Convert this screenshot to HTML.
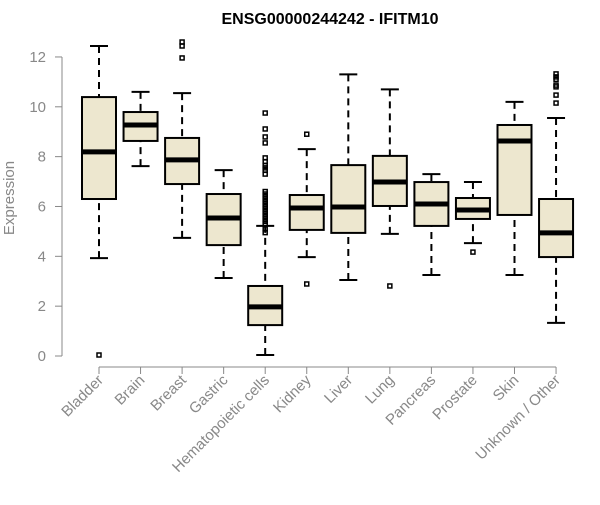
<!DOCTYPE html>
<html><head><meta charset="utf-8"><style>
body{margin:0;background:#fff}
svg text{font-family:"Liberation Sans",Arial,sans-serif}
</style></head><body>
<svg id="c" width="600" height="500">
<text x="330" y="24" text-anchor="middle" font-size="16" font-weight="bold" fill="#000">ENSG00000244242 - IFITM10</text>
<text transform="translate(14,198) rotate(-90)" text-anchor="middle" font-size="15" fill="#888">Expression</text>
</svg>
<script>
const categories=["Bladder","Brain","Breast","Gastric","Hematopoietic cells","Kidney","Liver","Lung","Pancreas","Prostate","Skin","Unknown / Other"];
const whiskerLow=[3.93,7.62,4.74,3.13,0.04,3.97,3.05,4.9,3.25,4.53,3.25,1.33];
const q1=[6.3,8.63,6.9,4.45,1.24,5.06,4.94,6.02,5.22,5.5,5.66,3.97];
const median=[8.19,9.27,7.87,5.54,1.97,5.94,5.98,6.98,6.1,5.86,8.63,4.94];
const q3=[10.39,9.79,8.75,6.5,2.81,6.46,7.66,8.03,6.98,6.34,9.27,6.3];
const whiskerHigh=[12.44,10.6,10.55,7.46,5.22,8.3,11.3,10.7,7.3,6.98,10.2,9.55];
const outliers=[[0.04],[],[12.6,12.44,11.96],[],[9.75,9.11,8.79,8.55,7.95,7.8,7.65,7.55,7.45,7.3,6.6,6.5,6.4,6.3,6.2,6.1,6.0,5.9,5.8,5.7,5.6,5.5,5.4,5.3,5.1,4.95],[8.9,2.89],[],[2.81],[],[4.17],[],[11.32,11.2,11.1,10.87,10.8,10.47,10.15]];
const yTicks=[0,2,4,6,8,10,12];
const svg=document.getElementById('c');const NS="http://www.w3.org/2000/svg";
function y(v){return 356-v*24.92;}
function x(i){return 99+i*41.55;}
function mk(t,a,p){const e=document.createElementNS(NS,t);for(const k in a)e.setAttribute(k,a[k]);(p||svg).appendChild(e);return e;}
const yl=mk('line',{x1:62,x2:62,y1:y(0),y2:y(12),stroke:'#888'});


yTicks.forEach(t=>{
 const tl=mk('line',{x1:55,x2:62,y1:y(t),y2:y(t),stroke:'#888'});
 
 
 const tx=mk('text',{x:46,y:y(t)+5,'text-anchor':'end','font-size':15,fill:'#888'});tx.textContent=t;
 
 
});
const xl=mk('line',{x1:x(0),x2:x(11),y1:367,y2:367,stroke:'#888'});


categories.forEach((c,i)=>{
 const cx=x(i),w=17;
 const tk=mk('line',{x1:cx,x2:cx,y1:367,y2:374,stroke:'#888'});
 
 
 const lb=mk('text',{transform:`translate(${cx+5},${381}) rotate(-45)`,'text-anchor':'end','font-size':15,fill:'#888'});lb.textContent=c;
 
 
 const g=mk('g',{});
 
 
 mk('line',{x1:cx,x2:cx,y1:y(whiskerLow[i]),y2:y(q1[i]),stroke:'#000','stroke-width':2,'stroke-dasharray':'7,5'},g);
 mk('line',{x1:cx,x2:cx,y1:y(whiskerHigh[i]),y2:y(q3[i]),stroke:'#000','stroke-width':2,'stroke-dasharray':'7,5'},g);
 mk('line',{x1:cx-9,x2:cx+9,y1:y(whiskerLow[i]),y2:y(whiskerLow[i]),stroke:'#000','stroke-width':2},g);
 mk('line',{x1:cx-9,x2:cx+9,y1:y(whiskerHigh[i]),y2:y(whiskerHigh[i]),stroke:'#000','stroke-width':2},g);
 mk('rect',{x:cx-w,y:y(q3[i]),width:2*w,height:y(q1[i])-y(q3[i]),fill:'#ede7cf',stroke:'#000','stroke-width':2},g);
 mk('line',{x1:cx-w,x2:cx+w,y1:y(median[i]),y2:y(median[i]),stroke:'#000','stroke-width':5},g);
 outliers[i].forEach(o=>{mk('rect',{x:cx-2,y:y(o)-2,width:4,height:4,fill:'none',stroke:'#000','stroke-width':1.5},g);});
});
</script>
</body></html>
